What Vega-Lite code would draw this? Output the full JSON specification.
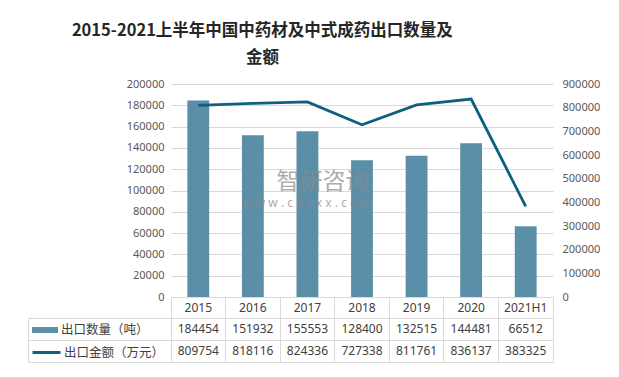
{
  "$schema": "https://vega.github.io/schema/vega-lite/v6.json",
  "background": "white",
  "padding": {"left": 27, "top": 22, "right": 10, "bottom": 10},
  "title": {
    "text": ["2015-2021上半年中国中药材及中式成药出口数量及", "金额"],
    "font": "Noto Sans CJK SC",
    "fontSize": 16.5,
    "fontWeight": "bold",
    "color": "#262626",
    "anchor": "middle",
    "dx": -51,
    "lineHeight": 27,
    "offset": 12
  },
  "data": {
    "values": [
      {"year": "2015", "qty": 184454, "amt": 809754},
      {"year": "2016", "qty": 151932, "amt": 818116},
      {"year": "2017", "qty": 155553, "amt": 824336},
      {"year": "2018", "qty": 128400, "amt": 727338},
      {"year": "2019", "qty": 132515, "amt": 811761},
      {"year": "2020", "qty": 144481, "amt": 836137},
      {"year": "2021H1", "qty": 66512, "amt": 383325}
    ]
  },
  "spacing": 0,
  "bounds": "flush",
  "vconcat": [
    {
      "width": 382,
      "height": 213,
      "encoding": {
        "x": {"field": "year", "type": "nominal", "sort": null,
              "scale": {"type": "band", "paddingInner": 0.6, "paddingOuter": 0.3}, "axis": null}
      },
      "layer": [
        {
          "encoding": {
            "y": {"type": "quantitative", "field": "qty", "scale": {"domain": [0, 200000]},
                  "axis": {"title": null, "values": [0,20000,40000,60000,80000,100000,120000,140000,160000,180000,200000],
                           "grid": true, "gridColor": "#d9d9d9", "domain": false, "ticks": false, "labelOverlap": false,
                           "labelPadding": 7, "labelColor": "#595959", "labelFontSize": 11, "labelFont": "Noto Sans", "format": "d"}}
          },
          "layer": [
            {
              "mark": {"type": "bar"},
              "encoding": {
                "fill": {"datum": "出口数量（吨）", "type": "nominal", "scale": {"range": ["#5b8fa8"]},
                         "legend": {"orient": "none", "legendX": -139, "legendY": 233, "title": null,
                                    "symbolType": "M-1,-0.23H1V0.23H-1Z", "symbolSize": 676, "symbolStrokeWidth": 0,
                                    "labelOffset": 3, "labelFontSize": 12.5, "labelFont": "Noto Sans CJK SC", "labelColor": "#404040"}}
              }
            },
            {
              "data": {"values": [{"qty": 108000}]},
              "mark": {"type": "text", "text": "智研咨询", "font": "Noto Sans CJK SC", "fontSize": 23, "color": "#8a8a8a", "opacity": 0.7, "dx": 15},
              "encoding": {"x": {"datum": "2017"}}
            },
            {
              "data": {"values": [{"qty": 88000}]},
              "mark": {"type": "text", "text": "w w w . c h y x x . c o m", "font": "Noto Sans", "fontSize": 12, "color": "#8a8a8a", "opacity": 0.7},
              "encoding": {"x": {"datum": "2017"}}
            }
          ]
        },
        {
          "mark": {"type": "line", "strokeWidth": 2.8},
          "encoding": {
            "y": {"field": "amt", "type": "quantitative", "scale": {"domain": [0, 900000]},
                  "axis": {"orient": "right", "title": null, "values": [0,100000,200000,300000,400000,500000,600000,700000,800000,900000],
                           "grid": false, "domain": false, "ticks": false, "labelPadding": 9, "labelOverlap": false,
                           "labelColor": "#595959", "labelFontSize": 11, "labelFont": "Noto Sans", "format": "d"}},
            "stroke": {"datum": "出口金额（万元）", "type": "nominal", "scale": {"range": ["#0e6080"]},
                       "legend": {"orient": "none", "legendX": -140, "legendY": 253, "title": null,
                                  "symbolType": "M-1,0H1", "symbolSize": 784, "symbolStrokeWidth": 3,
                                  "labelOffset": 2, "labelFontSize": 12.5, "labelFont": "Noto Sans CJK SC", "labelColor": "#404040"}}
          }
        }
      ],
      "resolve": {"scale": {"y": "independent"}}
    },
    {
      "width": 382,
      "height": 21,
      "view": {"stroke": "#d9d9d9"},
      "mark": {"type": "text", "font": "Noto Sans", "fontSize": 12, "color": "#404040"},
      "encoding": {
        "x": {"field": "year", "type": "nominal", "sort": null,
              "scale": {"type": "band", "paddingInner": 0, "paddingOuter": 0},
              "axis": {"orient": "top", "title": null, "labels": false, "ticks": false, "domain": false,
                       "grid": true, "gridColor": "#d9d9d9", "bandPosition": 0}},
        "text": {"field": "year", "type": "nominal"}
      }
    },
    {
      "width": 382,
      "height": 44,
      "view": {"stroke": "#d9d9d9"},
      "encoding": {
        "x": {"field": "year", "type": "nominal", "sort": null,
              "scale": {"type": "band", "paddingInner": 0, "paddingOuter": 0},
              "axis": {"orient": "top", "title": null, "labels": false, "ticks": false, "domain": false,
                       "grid": true, "gridColor": "#d9d9d9", "bandPosition": 0}}
      },
      "layer": [
        {
          "data": {"values": [{"r": 0}, {"r": 1}, {"r": 2}]},
          "mark": {"type": "rule", "opacity": 0},
          "encoding": {
            "x": {"datum": "2015"},
            "y": {"field": "r", "type": "quantitative", "scale": {"domain": [0, 2], "nice": false, "zero": false},
                  "axis": {"title": null, "labels": false, "values": [0, 1, 2], "offset": 143,
                           "ticks": true, "tickSize": -525, "tickColor": "#d9d9d9", "tickWidth": 1,
                           "domain": true, "domainColor": "#d9d9d9", "grid": false}}
          }
        },
        {
          "mark": {"type": "text", "font": "Noto Sans", "fontSize": 12, "color": "#404040"},
          "encoding": {
            "y": {"datum": 1.5, "type": "quantitative", "scale": {"domain": [0, 2], "nice": false, "zero": false},
                  "axis": {"title": null, "labels": false, "values": [0, 1, 2], "offset": 143,
                           "ticks": true, "tickSize": -525, "tickColor": "#d9d9d9", "tickWidth": 1,
                           "domain": true, "domainColor": "#d9d9d9", "grid": false}},
            "text": {"field": "qty", "type": "quantitative", "format": "d"}
          }
        },
        {
          "mark": {"type": "text", "font": "Noto Sans", "fontSize": 12, "color": "#404040"},
          "encoding": {
            "y": {"datum": 0.5, "type": "quantitative", "scale": {"domain": [0, 2], "nice": false, "zero": false},
                  "axis": {"title": null, "labels": false, "values": [0, 1, 2], "offset": 143,
                           "ticks": true, "tickSize": -525, "tickColor": "#d9d9d9", "tickWidth": 1,
                           "domain": true, "domainColor": "#d9d9d9", "grid": false}},
            "text": {"field": "amt", "type": "quantitative", "format": "d"}
          }
        }
      ]
    }
  ],
  "config": {"view": {"stroke": null}, "axis": {"labelOverlap": false}}
}
